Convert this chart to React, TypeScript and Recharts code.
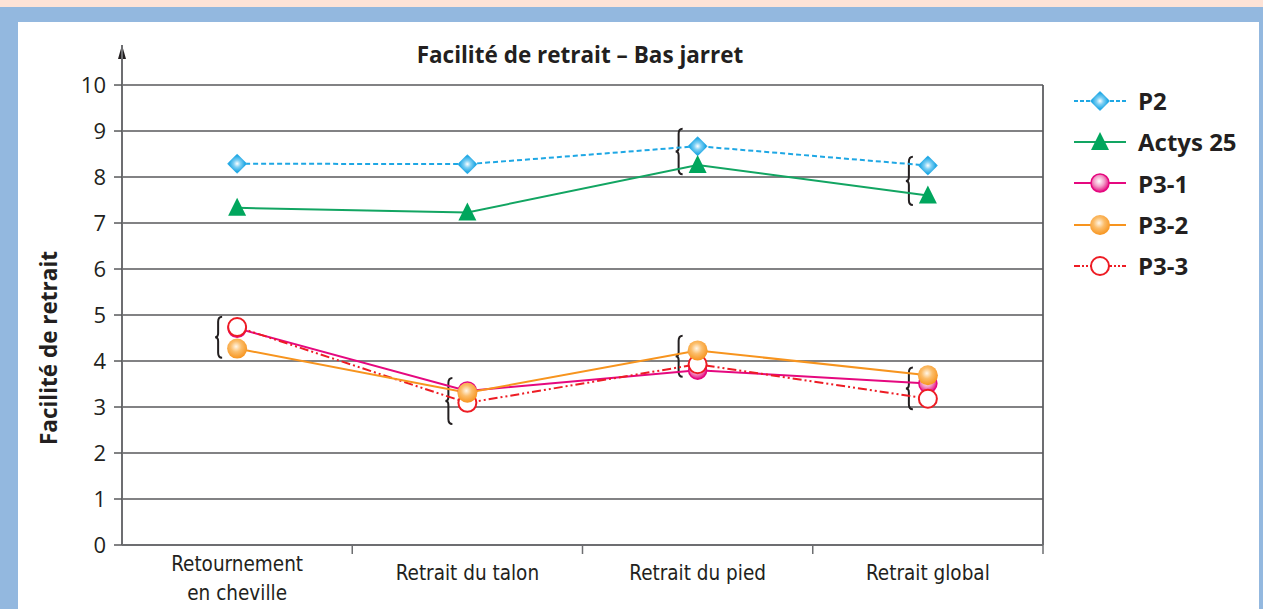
import { Line, LineChart, ReferenceArea, ReferenceLine, XAxis, YAxis } from 'recharts'

const categories = ['Retournement\nen cheville', 'Retrait du talon', 'Retrait du pied', 'Retrait global']
const p2 = [8.29, 8.28, 8.67, 8.25]
const actys25 = [7.33, 7.23, 8.26, 7.6]
const p31 = [4.71, 3.35, 3.8, 3.51]
const p32 = [4.27, 3.31, 4.23, 3.69]
const p33 = [4.74, 3.09, 3.93, 3.18]
const yTicks = [0, 1, 2, 3, 4, 5, 6, 7, 8, 9, 10]
const yTop = 10.87

// accolades regroupant les points proches
const braceCategory = [0, 1, 2, 3, 2, 3]
const braceTop = [4.96, 3.63, 4.55, 3.86, 9.05, 8.44]
const braceBottom = [4.07, 2.63, 3.66, 2.95, 8.06, 7.39]

const data = categories.map((name, i) => ({
  name,
  p2: p2[i],
  actys25: actys25[i],
  p31: p31[i],
  p32: p32[i],
  p33: p33[i],
}))

type MarkerKind = 'diamond' | 'triangle' | 'pink' | 'orange' | 'open'

interface Series {
  key: string
  name: string
  color: string
  dash?: string
  legendDash?: string
  marker: MarkerKind
}

const series: Series[] = [
  { key: 'p2', name: 'P2', color: '#1ea7e4', dash: '5 3', legendDash: '4 2', marker: 'diamond' },
  { key: 'actys25', name: 'Actys 25', color: '#12a562', marker: 'triangle' },
  { key: 'p31', name: 'P3-1', color: '#e5087f', marker: 'pink' },
  { key: 'p32', name: 'P3-2', color: '#f7941e', marker: 'orange' },
  { key: 'p33', name: 'P3-3', color: '#ed1c24', dash: '9 3 2 3 2 3', legendDash: '6 2 2 2 2 2', marker: 'open' },
]

// ordre de dessin : P3-3 passe sous P3-2
const drawOrder = ['p2', 'actys25', 'p31', 'p33', 'p32']

const font = '"Open Sans", "DejaVu Sans", sans-serif'
const ink = '#231f20'
const axisGrey = '#6d6e71'
const gridGrey = '#58595b'

function Marker({ kind, cx, cy }: { kind: MarkerKind; cx: number; cy: number }) {
  if (cx == null || cy == null) return null
  switch (kind) {
    case 'diamond':
      return (
        <polygon
          points={`${cx},${cy - 10} ${cx + 10},${cy} ${cx},${cy + 10} ${cx - 10},${cy}`}
          fill="url(#gradCyan)"
        />
      )
    case 'triangle':
      return <polygon points={`${cx},${cy - 10} ${cx + 9},${cy + 8} ${cx - 9},${cy + 8}`} fill="#00a65d" />
    case 'pink':
      return <circle cx={cx} cy={cy} r={9} fill="url(#gradPink)" stroke="#e5087f" strokeWidth={1.5} />
    case 'orange':
      return <circle cx={cx} cy={cy} r={10} fill="url(#gradOrange)" />
    default:
      return <circle cx={cx} cy={cy} r={9} fill="#fff" stroke="#ed1c24" strokeWidth={2} />
  }
}

function Brace(props: any) {
  const { x1, y1, y2 } = props
  if (x1 == null) return null
  const x = x1 - 19
  const ym = (y1 + y2) / 2
  const d = [
    `M ${x + 4} ${y1}`,
    `Q ${x} ${y1} ${x} ${y1 + 5}`,
    `L ${x} ${ym - 4}`,
    `Q ${x} ${ym} ${x - 3} ${ym}`,
    `Q ${x} ${ym} ${x} ${ym + 4}`,
    `L ${x} ${y2 - 5}`,
    `Q ${x} ${y2} ${x + 4} ${y2}`,
  ].join(' ')
  return <path d={d} fill="none" stroke={ink} strokeWidth={2} />
}

function CategoryTick({ x, y, payload }: any) {
  const lines = String(payload.value).split('\n')
  const first = lines.length > 1 ? 26 : 35
  const half = payload.offset ?? 115
  return (
    <g>
      <line x1={x + half} y1={y} x2={x + half} y2={y + 9} stroke={axisGrey} strokeWidth={1.5} />
      <text
        x={x}
        y={y}
        textAnchor="middle"
        fill={ink}
        fontSize={20.5}
        fontFamily='"Liberation Sans Narrow", "DejaVu Sans Condensed", "Liberation Sans", sans-serif'
      >
        {lines.map((line, i) => (
          <tspan key={line} x={x} y={y + first + i * 29}>
            {line}
          </tspan>
        ))}
      </text>
    </g>
  )
}

function YLabel({ viewBox }: any) {
  const cx = viewBox.x - 14
  const cy = viewBox.y + viewBox.height / 2 + 53
  return (
    <text
      x={cx}
      y={cy}
      transform={`rotate(-90 ${cx} ${cy})`}
      textAnchor="middle"
      dominantBaseline="central"
      fontSize={22.5}
      fontWeight={700}
      fontFamily={font}
      fill={ink}
    >
      Facilité de retrait
    </text>
  )
}

function Legend() {
  return (
    <div style={{ position: 'absolute', left: 1074, top: 80, fontFamily: font }}>
      {series.map((s) => (
        <div key={s.key} style={{ display: 'flex', alignItems: 'center', height: 41.3 }}>
          <svg width={52} height={24}>
            <line
              x1={0}
              y1={12}
              x2={52}
              y2={12}
              stroke={s.color}
              strokeWidth={2}
              strokeDasharray={s.legendDash}
            />
            <Marker kind={s.marker} cx={26} cy={12} />
          </svg>
          <span style={{ marginLeft: 12, fontSize: 24, fontWeight: 700, color: ink }}>{s.name}</span>
        </div>
      ))}
    </div>
  )
}

export default function App() {
  return (
    <div style={{ position: 'absolute', left: 0, top: 0, width: 1263, height: 609, background: '#93b8df', overflow: 'hidden' }}>
      <div style={{ position: 'absolute', left: 0, top: 0, width: 1263, height: 7, background: '#fde3d7' }} />
      <div style={{ position: 'absolute', left: 18, top: 22, width: 1241, height: 587, background: '#fff' }} />
      <div
        style={{
          position: 'absolute',
          left: 330,
          top: 40,
          width: 500,
          textAlign: 'center',
          fontFamily: font,
          fontWeight: 700,
          fontSize: 22.5,
          lineHeight: '30px',
          color: ink,
        }}
      >
        Facilité de retrait – Bas jarret
      </div>
      <div style={{ position: 'absolute', left: 0, top: 0 }}>
        <LineChart width={1263} height={609} data={data} margin={{ top: 45, right: 220, left: 62, bottom: 4 }}>
          <defs>
            <radialGradient id="gradCyan" cx="50%" cy="50%" r="50%">
              <stop offset="0%" stopColor="#ffffff" />
              <stop offset="35%" stopColor="#7fd0f4" />
              <stop offset="80%" stopColor="#1ea7e4" />
              <stop offset="100%" stopColor="#4cb8ea" />
            </radialGradient>
            <radialGradient id="gradPink" cx="45%" cy="40%" r="60%">
              <stop offset="0%" stopColor="#ffffff" />
              <stop offset="50%" stopColor="#f29ac6" />
              <stop offset="100%" stopColor="#e5087f" />
            </radialGradient>
            <radialGradient id="gradOrange" cx="45%" cy="40%" r="60%">
              <stop offset="0%" stopColor="#fff6e8" />
              <stop offset="45%" stopColor="#fbbd6a" />
              <stop offset="100%" stopColor="#f7941e" />
            </radialGradient>
          </defs>
          <XAxis
            dataKey="name"
            type="category"
            scale="band"
            axisLine={{ stroke: axisGrey, strokeWidth: 2 }}
            tickLine={false}
            tickSize={0}
            tickMargin={0}
            tick={<CategoryTick />}
            interval={0}
            height={60}
          />
          <YAxis
            domain={[0, yTop]}
            ticks={yTicks}
            interval={0}
            width={60}
            axisLine={{ stroke: axisGrey, strokeWidth: 2 }}
            tickLine={{ stroke: gridGrey, strokeWidth: 1.5 }}
            tickSize={8}
            tickMargin={8}
            tick={{ fontSize: 22, fill: ink, fontFamily: font }}
            label={<YLabel />}
          />
          {/* lignes horizontales de la grille */}
          {yTicks.slice(1).map((t) => (
            <ReferenceLine key={`g${t}`} y={t} stroke={gridGrey} strokeWidth={1.5} />
          ))}
          {/* bord droit du cadre, de 0 à 10 */}
          <ReferenceArea
            y1={0}
            y2={10}
            ifOverflow="visible"
            shape={(p: any) => (
              <line x1={p.x + p.width} y1={p.y} x2={p.x + p.width} y2={p.y + p.height} stroke={axisGrey} strokeWidth={2} />
            )}
          />
          {/* flèche en haut de l'axe vertical */}
          <ReferenceArea
            y1={10}
            y2={yTop}
            ifOverflow="visible"
            shape={(p: any) => (
              <polygon points={`${p.x},${p.y} ${p.x + 4},${p.y + 14} ${p.x - 4},${p.y + 14}`} fill={ink} />
            )}
          />
          {braceCategory.map((c, i) => (
            <ReferenceLine
              key={`brace${i}`}
              segment={[
                { x: categories[c], y: braceTop[i] },
                { x: categories[c], y: braceBottom[i] },
              ]}
              ifOverflow="visible"
              shape={(p: any) => <Brace {...p} />}
            />
          ))}
          {drawOrder.map((k) => {
            const s = series.find((x) => x.key === k)!
            return (
              <Line
                key={s.key}
                dataKey={s.key}
                name={s.name}
                type="linear"
                stroke={s.color}
                strokeWidth={2}
                strokeDasharray={s.dash}
                isAnimationActive={false}
                activeDot={false}
                dot={(p: any) => <Marker key={`${s.key}-${p.index}`} kind={s.marker} cx={p.cx} cy={p.cy} />}
              />
            )
          })}
        </LineChart>
      </div>
      <Legend />
    </div>
  )
}
